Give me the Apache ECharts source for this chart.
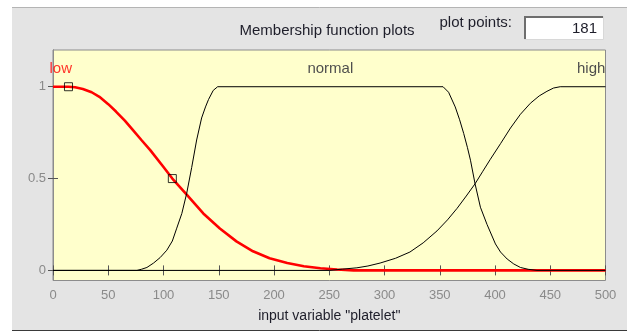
<!DOCTYPE html>
<html>
<head>
<meta charset="utf-8">
<script src="https://cdn.jsdelivr.net/npm/echarts@6/dist/echarts.min.js"></script>
<style>
html,body{margin:0;padding:0;background:#ffffff;}
#chart{width:634px;height:331px;}
</style>
</head>
<body>
<div id="chart"></div>
<script>
// ---- data ----
var xTicks = [0, 50, 100, 150, 200, 250, 300, 350, 400, 450, 500];
var yTicks = [0, 0.5, 1];

var lowX = [0, 14, 20, 27, 35, 42, 50, 57, 65, 72, 80, 88, 100, 108, 121, 136, 151, 166, 181, 196, 212, 227, 242, 257, 272, 500];
var lowY = [1, 1, 0.997, 0.988, 0.97, 0.945, 0.905, 0.865, 0.815, 0.766, 0.71, 0.655, 0.563, 0.5, 0.413, 0.31, 0.228, 0.158, 0.104, 0.066, 0.04, 0.023, 0.012, 0.005, 0, 0];

var normalX = [0, 76, 80, 85, 91, 97, 103, 108, 112, 116.6, 121, 125.5, 130, 134.5, 138, 140.7, 145, 149, 353, 358, 364, 368, 371.7, 375, 377.8, 382, 386.8, 392.8, 400.4, 405, 411, 417, 423, 430, 438, 500];
var normalY = [0, 0, 0.006, 0.016, 0.04, 0.07, 0.11, 0.16, 0.23, 0.31, 0.42, 0.56, 0.71, 0.83, 0.89, 0.93, 0.98, 1, 1, 0.97, 0.89, 0.82, 0.745, 0.67, 0.6, 0.47, 0.344, 0.25, 0.144, 0.1, 0.062, 0.035, 0.016, 0.006, 0, 0];

var highX = [0, 250, 262, 275, 285, 296, 310, 323, 335, 347.5, 357, 365.7, 374, 382, 389, 395.8, 405, 414, 423, 432, 440, 447, 453, 459, 500];
var highY = [0, 0, 0.007, 0.014, 0.024, 0.04, 0.066, 0.1, 0.15, 0.215, 0.275, 0.338, 0.405, 0.472, 0.54, 0.605, 0.69, 0.775, 0.85, 0.91, 0.95, 0.975, 0.993, 1, 1];

var mfNames = ['low', 'normal', 'high'];
var mfLabelX = [7, 251, 487];
var mfLabelY = [1.1, 1.1, 1.1];

var markerX = [14, 108];
var markerY = [1, 0.5];

var titleText = 'Membership function plots';
var plotPointsLabel = 'plot points:';
var plotPointsValue = '181';
var xName = 'input variable "platelet"';

// ---- build ----
function pairs(xs, ys) { return xs.map(function (x, i) { return [x, ys[i]]; }); }

var FONT = '"Liberation Sans", Arial, sans-serif';
var tickColor = '#8a8a8a';

var chart = echarts.init(document.getElementById('chart'), null, {renderer: 'canvas'});

var labelItems = mfNames.map(function (n, i) {
  return {
    value: [mfLabelX[i], mfLabelY[i]],
    name: n,
    label: { color: i === 0 ? '#ff0000' : '#1e1e2a' }
  };
});

var axisCommonX = {
  type: 'value', min: 0, max: 500, interval: 50,
  axisLine: { show: true, lineStyle: { color: '#8c8c8c', width: 1 } },
  axisTick: { show: true, inside: true, length: 5, lineStyle: { color: '#555555' } },
  splitLine: { show: false }
};
var axisCommonY = {
  type: 'value', min: -0.055, max: 1.2,
  axisLine: { show: true, lineStyle: { color: '#8c8c8c', width: 1 } },
  axisTick: { show: true, inside: true, length: 5, customValues: yTicks, lineStyle: { color: '#555555' } },
  splitLine: { show: false }
};

var option = {
  animation: false,
  backgroundColor: '#ffffff',
  graphic: [
    { type: 'rect', z: -10, shape: { x: 12, y: 7, width: 615, height: 323 }, style: { fill: '#e4e4e4' }, silent: true },
    { type: 'line', z: -9, shape: { x1: 12, y1: 7.5, x2: 627, y2: 7.5 }, style: { stroke: '#b4b4b4', lineWidth: 1 } },
    { type: 'line', z: -9, shape: { x1: 12, y1: 330.5, x2: 627, y2: 330.5 }, style: { stroke: '#3a3a3a', lineWidth: 1 } },
    { type: 'text', style: { text: titleText, x: 327, y: 31, align: 'center', verticalAlign: 'middle', font: '15px ' + FONT, fill: '#1e1e2a' } },
    { type: 'text', style: { text: plotPointsLabel, x: 512, y: 23, align: 'right', verticalAlign: 'middle', font: '15px ' + FONT, fill: '#1e1e2a' } },
    { type: 'rect', shape: { x: 524.5, y: 16.5, width: 79, height: 23 }, style: { fill: '#ffffff', stroke: '#d8d8d8', lineWidth: 1 } },
    { type: 'polyline', shape: { points: [[525, 39], [525, 17], [603, 17]] }, style: { stroke: '#6e6e6e', lineWidth: 2, fill: null } },
    { type: 'text', style: { text: plotPointsValue, x: 597, y: 29, align: 'right', verticalAlign: 'middle', font: '15px ' + FONT, fill: '#1e1e2a' } }
  ],
  grid: {
    left: 53, right: 28.5, top: 50, bottom: 50.5,
    show: true, backgroundColor: '#ffffcc', borderColor: '#8c8c8c', borderWidth: 1
  },
  xAxis: [
    Object.assign({}, axisCommonX, {
      position: 'bottom',
      axisLabel: { color: tickColor, fontSize: 13, fontFamily: FONT, margin: 8 },
      name: xName, nameLocation: 'middle', nameGap: 29,
      nameTextStyle: { color: '#1e1e2a', fontSize: 14, fontFamily: FONT }
    }),
    Object.assign({}, axisCommonX, { position: 'top', axisLabel: { show: false } })
  ],
  yAxis: [
    Object.assign({}, axisCommonY, {
      position: 'left',
      axisLabel: { color: tickColor, fontSize: 13, fontFamily: FONT, margin: 7, customValues: yTicks }
    }),
    Object.assign({}, axisCommonY, { position: 'right', axisLabel: { show: false } })
  ],
  series: [
    {
      name: 'low', type: 'line', data: pairs(lowX, lowY), showSymbol: false, z: 2,
      lineStyle: { color: '#ff0000', width: 2.6 }, itemStyle: { color: '#ff0000' }
    },
    {
      name: 'normal', type: 'line', data: pairs(normalX, normalY), showSymbol: false, z: 3,
      lineStyle: { color: '#000000', width: 1 }, itemStyle: { color: '#000000' }
    },
    {
      name: 'high', type: 'line', data: pairs(highX, highY), showSymbol: false, z: 3,
      lineStyle: { color: '#000000', width: 1 }, itemStyle: { color: '#000000' }
    },
    {
      name: 'markers', type: 'scatter', data: pairs(markerX, markerY), z: 4,
      symbol: 'rect', symbolSize: 8,
      itemStyle: { color: 'rgba(0,0,0,0)', borderColor: '#000000', borderWidth: 1 }
    },
    {
      name: 'mfLabels', type: 'scatter', data: labelItems, symbolSize: 0, z: 5,
      label: {
        show: true, position: 'inside', formatter: function (p) { return p.name; },
        fontSize: 15, fontFamily: FONT
      }
    }
  ]
};
chart.setOption(option);
</script>
</body>
</html>
